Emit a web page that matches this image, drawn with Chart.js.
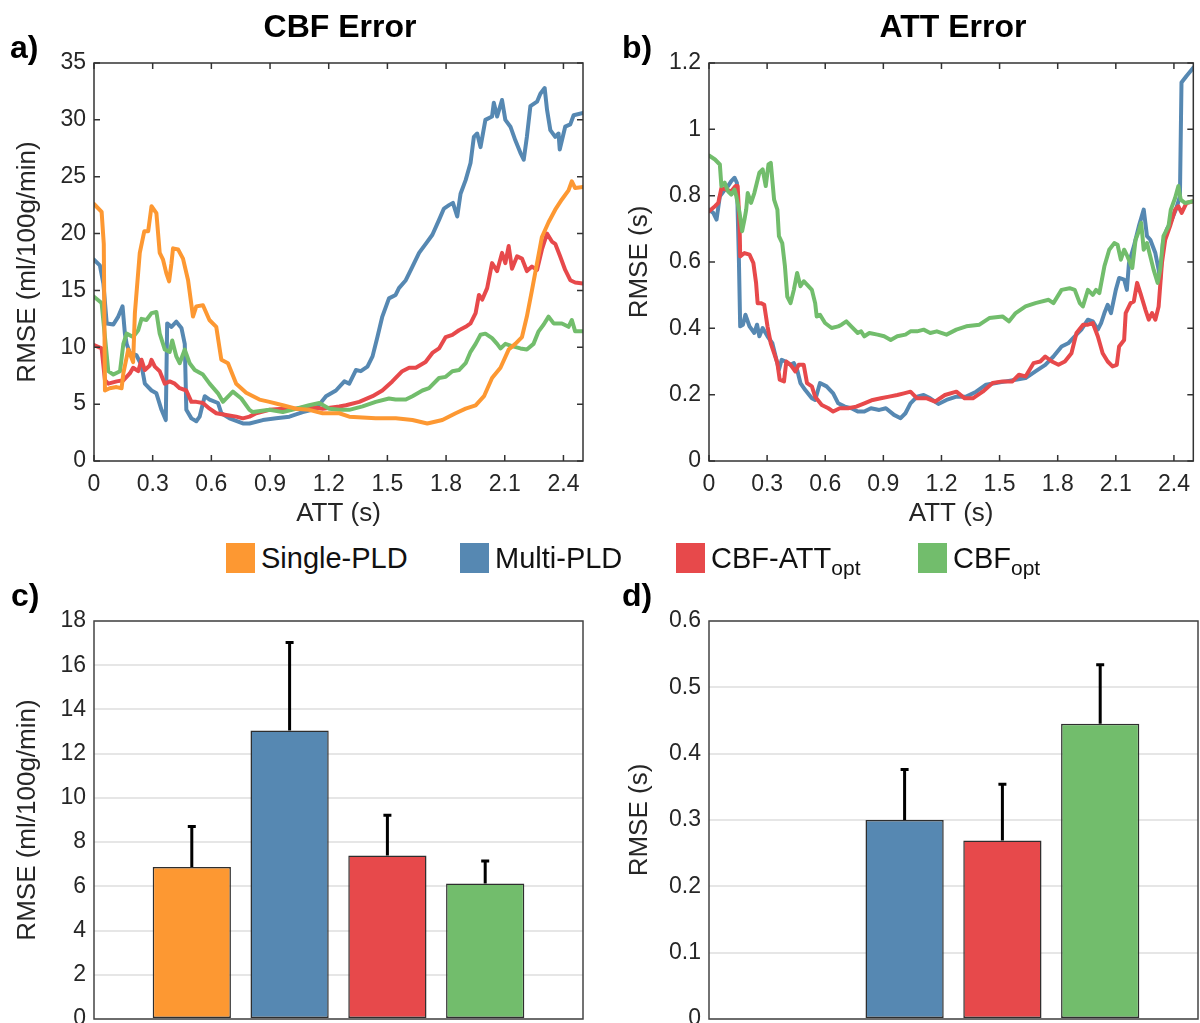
<!DOCTYPE html>
<html>
<head>
<meta charset="utf-8">
<script src="https://cdn.jsdelivr.net/npm/chart.js@4.4.1/dist/chart.umd.min.js"></script>
<style>
html,body{margin:0;padding:0;background:#fff;}
#wrap{position:relative;width:1200px;height:1023px;overflow:hidden;font-family:"Liberation Sans",Arial,sans-serif;background:#fff;}
canvas{position:absolute;}
.t{position:absolute;transform:translate(-50%,-50%);line-height:1;white-space:nowrap;color:#000;font-size:32px;font-weight:bold;}
.lbl{position:absolute;line-height:1;font-weight:bold;font-size:32px;transform:translateY(-50%);color:#000;}
.sw{position:absolute;width:29px;height:30px;top:543px;}
.lg{position:absolute;font-size:29px;line-height:1;transform:translateY(-50%);top:558px;color:#111;white-space:nowrap;}
.lg .sb{font-size:21px;position:relative;top:7px;}
</style>
</head>
<body>
<div id="wrap">
  <canvas id="ca" width="600" height="530" style="left:0;top:0;width:600px;height:530px"></canvas>
  <canvas id="cb" width="600" height="530" style="left:600px;top:0;width:600px;height:530px"></canvas>
  <canvas id="cc" width="600" height="443" style="left:0;top:580px;width:600px;height:443px"></canvas>
  <canvas id="cd" width="600" height="443" style="left:600px;top:580px;width:600px;height:443px"></canvas>

  <div class="t" style="left:340px;top:26px">CBF Error</div>
  <div class="t" style="left:953px;top:26px">ATT Error</div>
  <div class="lbl" style="left:10px;top:47px">a)</div>
  <div class="lbl" style="left:622px;top:47px">b)</div>
  <div class="lbl" style="left:11px;top:595px">c)</div>
  <div class="lbl" style="left:622px;top:595px">d)</div>

  <div id="legend"></div>
</div>
<script>
// ---------------- data ----------------
const seriesNames = ['Single-PLD', 'Multi-PLD', 'CBF-ATT', 'CBF'];
const seriesSubs  = ['', '', 'opt', 'opt'];
const seriesColors = ['rgb(253,152,50)', 'rgb(86,136,178)', 'rgb(231,73,75)', 'rgb(114,189,108)'];

const attXTickLabels = ['0','0.3','0.6','0.9','1.2','1.5','1.8','2.1','2.4'];
const cbfYTickLabels = ['0','5','10','15','20','25','30','35'];
const attYTickLabels = ['0','0.2','0.4','0.6','0.8','1','1.2'];
const cbfBarTickLabels = ['0','2','4','6','8','10','12','14','16','18'];
const attBarTickLabels = ['0','0.1','0.2','0.3','0.4','0.5','0.6'];

// Panel a: CBF RMSE vs ATT  [ATT (s), RMSE]
const cbfSingle = [[0,22.6],[0.039,21.9],[0.05,19.1],[0.056,6.2],[0.08,6.4],[0.115,6.5],[0.141,6.4],[0.15,7.7],[0.175,9.8],[0.2,8.7],[0.209,13],[0.234,18.3],[0.257,20.2],[0.277,20.2],[0.294,22.4],[0.319,21.8],[0.336,18.3],[0.353,17.7],[0.37,16.5],[0.384,15.8],[0.396,17.4],[0.404,18.7],[0.43,18.6],[0.455,17.8],[0.481,15.9],[0.506,12.7],[0.523,13.6],[0.557,13.7],[0.59,12.4],[0.625,11.8],[0.651,8.9],[0.685,8.6],[0.727,6.8],[0.778,6.0],[0.846,5.4],[0.897,5.2],[0.965,4.9],[1.033,4.6],[1.1,4.5],[1.169,4.2],[1.254,4.2],[1.305,3.9],[1.44,3.75],[1.543,3.75],[1.628,3.6],[1.704,3.3],[1.781,3.6],[1.849,4.2],[1.9,4.6],[1.951,4.9],[1.994,5.7],[2.035,7.3],[2.078,8.2],[2.12,9.8],[2.154,10.3],[2.188,10.9],[2.213,12.7],[2.239,15.0],[2.265,17.4],[2.29,19.7],[2.324,21.0],[2.358,22.1],[2.392,23.0],[2.426,23.8],[2.443,24.6],[2.46,24.0],[2.5,24.1]];
const cbfMulti = [[0,17.7],[0.03,17.2],[0.048,15.6],[0.065,12.1],[0.099,12.0],[0.124,12.7],[0.146,13.6],[0.158,11.2],[0.167,10.3],[0.183,9.5],[0.217,9.3],[0.243,8.4],[0.26,6.8],[0.294,6.2],[0.319,5.95],[0.345,4.5],[0.367,3.6],[0.374,12.1],[0.396,11.8],[0.421,12.25],[0.447,11.7],[0.464,10.3],[0.472,4.5],[0.498,3.75],[0.523,3.5],[0.54,3.9],[0.566,5.7],[0.591,5.4],[0.634,5.1],[0.651,4.2],[0.693,3.75],[0.761,3.3],[0.795,3.3],[0.863,3.6],[0.931,3.75],[0.999,3.9],[1.067,4.3],[1.135,4.6],[1.186,5.7],[1.237,6.2],[1.28,7.0],[1.305,6.8],[1.339,8.0],[1.364,7.9],[1.398,8.3],[1.424,9.2],[1.449,10.9],[1.474,12.7],[1.508,14.3],[1.542,14.6],[1.559,15.2],[1.594,15.9],[1.628,17.1],[1.662,18.3],[1.696,19.1],[1.73,19.9],[1.764,21.2],[1.789,22.2],[1.815,22.5],[1.835,22.7],[1.857,21.5],[1.874,23.5],[1.9,24.7],[1.925,26.2],[1.942,28.5],[1.959,28.8],[1.976,27.6],[2.001,30.0],[2.035,30.3],[2.044,31.5],[2.061,30.3],[2.086,31.75],[2.103,30.0],[2.129,29.4],[2.154,28.2],[2.18,27.1],[2.197,26.5],[2.213,28.5],[2.231,31.2],[2.265,31.6],[2.282,32.3],[2.304,32.8],[2.316,30.9],[2.333,29.1],[2.358,28.5],[2.375,28.8],[2.381,27.4],[2.409,29.4],[2.435,29.6],[2.452,30.4],[2.5,30.6]];
const cbfCbfAttOpt = [[0,10.2],[0.039,9.9],[0.056,7.1],[0.073,6.8],[0.116,7.0],[0.15,7.1],[0.183,7.7],[0.2,8.2],[0.226,7.9],[0.243,8.9],[0.26,8.0],[0.285,8.4],[0.294,8.9],[0.311,8.3],[0.336,7.9],[0.362,6.8],[0.387,7.0],[0.413,6.8],[0.438,6.4],[0.472,6.2],[0.498,5.2],[0.523,5.2],[0.557,5.1],[0.591,4.6],[0.625,4.2],[0.676,4.05],[0.727,3.9],[0.761,3.75],[0.795,3.9],[0.829,4.2],[0.897,4.5],[0.965,4.6],[1.033,4.6],[1.1,4.8],[1.169,4.6],[1.254,4.8],[1.288,4.9],[1.356,5.2],[1.424,5.7],[1.474,6.2],[1.525,7.0],[1.576,7.9],[1.611,8.2],[1.645,8.2],[1.695,8.7],[1.73,9.5],[1.764,9.9],[1.798,10.9],[1.832,11.1],[1.866,11.5],[1.9,11.8],[1.925,12.1],[1.951,13.0],[1.968,14.6],[1.985,14.2],[2.01,15.2],[2.035,17.4],[2.061,16.7],[2.086,18.3],[2.103,17.4],[2.12,18.9],[2.137,16.9],[2.163,18.0],[2.188,17.8],[2.213,16.7],[2.239,17.1],[2.265,16.8],[2.29,18.6],[2.316,20.0],[2.341,19.3],[2.358,19.1],[2.383,18.0],[2.409,16.8],[2.435,15.9],[2.46,15.7],[2.5,15.6]];
const cbfCbfOpt = [[0,14.45],[0.039,13.9],[0.056,10.9],[0.073,7.9],[0.099,7.6],[0.133,7.9],[0.15,10.3],[0.167,11.2],[0.2,10.9],[0.226,11.5],[0.243,12.5],[0.268,12.4],[0.294,13.0],[0.319,13.1],[0.336,11.2],[0.362,9.8],[0.387,9.6],[0.4,10.6],[0.421,9.2],[0.438,8.6],[0.464,9.8],[0.489,8.6],[0.515,8.0],[0.557,7.6],[0.591,6.8],[0.634,5.95],[0.659,5.2],[0.71,6.1],[0.753,5.5],[0.795,4.5],[0.812,4.3],[0.897,4.5],[0.965,4.3],[1.033,4.6],[1.1,4.9],[1.152,5.1],[1.203,4.6],[1.254,4.5],[1.305,4.5],[1.373,4.8],[1.44,5.2],[1.508,5.5],[1.542,5.4],[1.594,5.4],[1.628,5.7],[1.679,6.2],[1.713,6.4],[1.764,7.3],[1.798,7.4],[1.832,7.9],[1.866,8.0],[1.9,8.6],[1.925,9.6],[1.951,10.3],[1.976,11.1],[2.001,11.2],[2.035,10.8],[2.061,10.3],[2.078,9.9],[2.103,10.3],[2.137,10.1],[2.18,9.9],[2.213,9.8],[2.247,10.3],[2.273,11.4],[2.299,12.0],[2.324,12.7],[2.35,12.1],[2.392,12.1],[2.426,11.8],[2.443,12.4],[2.46,11.4],[2.5,11.4]];

// Panel b: ATT RMSE vs ATT  [ATT (s), RMSE (s)]
const attMulti = [[0,0.758],[0.022,0.748],[0.039,0.728],[0.056,0.798],[0.081,0.818],[0.098,0.829],[0.115,0.844],[0.132,0.854],[0.144,0.839],[0.154,0.617],[0.161,0.406],[0.175,0.411],[0.188,0.441],[0.209,0.406],[0.234,0.386],[0.248,0.411],[0.26,0.376],[0.277,0.401],[0.302,0.376],[0.327,0.355],[0.344,0.315],[0.361,0.275],[0.375,0.305],[0.395,0.3],[0.421,0.29],[0.438,0.295],[0.455,0.275],[0.472,0.235],[0.497,0.214],[0.531,0.189],[0.548,0.184],[0.573,0.235],[0.607,0.225],[0.641,0.204],[0.667,0.174],[0.701,0.164],[0.735,0.159],[0.768,0.149],[0.802,0.149],[0.836,0.159],[0.879,0.154],[0.913,0.159],[0.955,0.139],[0.989,0.129],[1.014,0.144],[1.04,0.174],[1.074,0.194],[1.108,0.199],[1.142,0.189],[1.184,0.172],[1.226,0.184],[1.277,0.194],[1.328,0.194],[1.379,0.209],[1.43,0.23],[1.481,0.235],[1.532,0.24],[1.583,0.245],[1.634,0.25],[1.685,0.27],[1.736,0.29],[1.778,0.315],[1.82,0.345],[1.854,0.355],[1.888,0.376],[1.922,0.396],[1.956,0.426],[1.981,0.421],[2.007,0.396],[2.024,0.416],[2.041,0.446],[2.058,0.471],[2.075,0.446],[2.1,0.516],[2.117,0.552],[2.143,0.547],[2.157,0.516],[2.168,0.597],[2.193,0.647],[2.219,0.708],[2.244,0.758],[2.261,0.678],[2.278,0.667],[2.304,0.627],[2.321,0.577],[2.329,0.547],[2.343,0.657],[2.363,0.698],[2.389,0.728],[2.41,0.758],[2.431,0.798],[2.439,1.141],[2.465,1.161],[2.5,1.186]];
const attCbfAttOpt = [[0,0.753],[0.031,0.768],[0.048,0.778],[0.064,0.823],[0.09,0.818],[0.115,0.813],[0.137,0.829],[0.148,0.829],[0.158,0.708],[0.161,0.617],[0.183,0.627],[0.209,0.622],[0.229,0.597],[0.243,0.537],[0.251,0.476],[0.268,0.476],[0.285,0.471],[0.302,0.406],[0.319,0.355],[0.336,0.325],[0.353,0.295],[0.365,0.245],[0.387,0.24],[0.399,0.3],[0.421,0.29],[0.446,0.27],[0.463,0.29],[0.489,0.29],[0.506,0.235],[0.531,0.225],[0.548,0.194],[0.582,0.169],[0.616,0.159],[0.641,0.149],[0.675,0.159],[0.718,0.159],[0.76,0.164],[0.802,0.174],[0.845,0.184],[0.887,0.189],[0.93,0.194],[0.972,0.199],[1.006,0.204],[1.04,0.209],[1.074,0.189],[1.125,0.189],[1.167,0.179],[1.218,0.199],[1.277,0.209],[1.32,0.189],[1.362,0.189],[1.413,0.209],[1.464,0.235],[1.515,0.24],[1.566,0.24],[1.6,0.26],[1.634,0.255],[1.675,0.295],[1.71,0.3],[1.736,0.315],[1.77,0.3],[1.804,0.29],[1.837,0.3],[1.871,0.325],[1.897,0.386],[1.931,0.411],[1.956,0.411],[1.981,0.416],[2.007,0.376],[2.032,0.325],[2.058,0.3],[2.083,0.285],[2.105,0.29],[2.117,0.345],[2.143,0.365],[2.151,0.446],[2.176,0.476],[2.193,0.481],[2.21,0.537],[2.227,0.506],[2.253,0.456],[2.27,0.426],[2.287,0.446],[2.304,0.426],[2.321,0.466],[2.338,0.597],[2.355,0.667],[2.38,0.708],[2.406,0.758],[2.423,0.768],[2.44,0.748],[2.465,0.778],[2.5,0.783]];
const attCbfOpt = [[0,0.921],[0.031,0.909],[0.056,0.894],[0.064,0.829],[0.081,0.839],[0.098,0.813],[0.115,0.803],[0.132,0.818],[0.141,0.798],[0.158,0.748],[0.171,0.693],[0.183,0.728],[0.192,0.758],[0.2,0.808],[0.217,0.778],[0.234,0.808],[0.26,0.869],[0.277,0.879],[0.293,0.829],[0.307,0.894],[0.319,0.899],[0.336,0.788],[0.353,0.758],[0.361,0.678],[0.378,0.657],[0.392,0.587],[0.404,0.496],[0.421,0.476],[0.438,0.516],[0.455,0.567],[0.472,0.527],[0.489,0.542],[0.506,0.532],[0.531,0.516],[0.548,0.476],[0.556,0.436],[0.573,0.441],[0.599,0.416],[0.633,0.401],[0.667,0.406],[0.684,0.411],[0.709,0.421],[0.734,0.406],[0.768,0.386],[0.785,0.391],[0.802,0.376],[0.828,0.386],[0.87,0.381],[0.904,0.376],[0.938,0.365],[0.972,0.376],[1.014,0.381],[1.04,0.391],[1.074,0.391],[1.108,0.396],[1.142,0.386],[1.176,0.391],[1.226,0.381],[1.277,0.396],[1.328,0.406],[1.396,0.411],[1.447,0.431],[1.515,0.436],[1.549,0.421],[1.583,0.446],[1.634,0.466],[1.685,0.476],[1.753,0.486],[1.778,0.476],[1.82,0.516],[1.862,0.521],[1.888,0.516],[1.914,0.476],[1.93,0.466],[1.956,0.516],[1.981,0.501],[1.998,0.516],[2.015,0.506],[2.041,0.587],[2.066,0.637],[2.092,0.657],[2.109,0.652],[2.126,0.607],[2.143,0.637],[2.16,0.617],[2.185,0.582],[2.202,0.667],[2.219,0.693],[2.231,0.718],[2.244,0.637],[2.261,0.657],[2.278,0.617],[2.295,0.577],[2.316,0.537],[2.329,0.577],[2.346,0.678],[2.372,0.708],[2.384,0.758],[2.406,0.793],[2.423,0.829],[2.435,0.788],[2.457,0.778],[2.5,0.783]];

// Panels c, d: mean RMSE and upper error (SD) per method
const cbfBarMean = [6.88, 13.05, 7.40, 6.13];
const cbfBarSD   = [1.83, 3.98, 1.81, 1.02];
const attBarMean = [null, 0.30, 0.269, 0.445];
const attBarSD   = [null, 0.076, 0.085, 0.089];

// ---------------- rendering ----------------
const FONT = '"Liberation Sans", Arial, Helvetica, sans-serif';
const INK = '#262626';

// legend (HTML text)
(function(){
  const lg = document.getElementById('legend');
  const swX = [226, 460, 676, 918];
  seriesNames.forEach((n, i) => {
    const sw = document.createElement('div');
    sw.className = 'sw'; sw.style.left = swX[i] + 'px'; sw.style.background = seriesColors[i];
    lg.appendChild(sw);
    const tx = document.createElement('div');
    tx.className = 'lg'; tx.style.left = (swX[i] + 35) + 'px';
    tx.innerHTML = n + (seriesSubs[i] ? '<span class="sb">' + seriesSubs[i] + '</span>' : '');
    lg.appendChild(tx);
  });
})();

const framePlugin = {
  id: 'frame',
  afterDatasetsDraw(chart, args, o) {
    const {ctx, chartArea: a, scales} = chart;
    ctx.save();
    ctx.strokeStyle = o.color || '#333';
    ctx.lineWidth = o.width || 1.5;
    if (o.ticks) {
      const L = 6;
      ctx.beginPath();
      scales.x.ticks.forEach(t => {
        const px = scales.x.getPixelForValue(t.value);
        ctx.moveTo(px, a.bottom); ctx.lineTo(px, a.bottom - L);
        ctx.moveTo(px, a.top); ctx.lineTo(px, a.top + L);
      });
      scales.y.ticks.forEach(t => {
        const py = scales.y.getPixelForValue(t.value);
        ctx.moveTo(a.left, py); ctx.lineTo(a.left + L, py);
        ctx.moveTo(a.right, py); ctx.lineTo(a.right - L, py);
      });
      ctx.stroke();
    }
    ctx.strokeRect(a.left, a.top, a.right - a.left, a.bottom - a.top);
    ctx.restore();
  }
};

const errPlugin = {
  id: 'errbars',
  afterDatasetsDraw(chart, args, o) {
    if (!o.sd) return;
    const {ctx, scales: {y}} = chart;
    const meta = chart.getDatasetMeta(0);
    const vals = chart.data.datasets[0].data;
    ctx.save();
    ctx.strokeStyle = '#000';
    ctx.lineWidth = 3;
    meta.data.forEach((el, i) => {
      const m = vals[i], s = o.sd[i];
      if (m == null || s == null) return;
      const top = y.getPixelForValue(m + s);
      ctx.beginPath();
      ctx.moveTo(el.x, el.y); ctx.lineTo(el.x, top);
      ctx.moveTo(el.x - 4, top); ctx.lineTo(el.x + 4, top);
      ctx.stroke();
    });
    ctx.restore();
  }
};

function tickSetter(labels) {
  return s => { s.ticks = labels.map(l => ({value: Number(l)})); };
}
function yFit(w) {
  return s => { s.width = w; s.paddingTop = 0; s.paddingBottom = 0; };
}

function lineChart(id, sets, yMax, yLabels, yTitle, yTitlePad, yWidth, padRight) {
  return new Chart(document.getElementById(id), {
    type: 'scatter',
    data: {
      datasets: sets.map(s => ({
        label: s.name,
        data: s.data.map(p => ({x: p[0], y: p[1]})),
        showLine: true, borderColor: s.color, backgroundColor: s.color,
        borderWidth: 4, pointRadius: 0, pointHoverRadius: 0, tension: 0, fill: false,
        order: s.order, borderJoinStyle: 'round', borderCapStyle: 'round'
      }))
    },
    options: {
      responsive: false, animation: false, events: [], devicePixelRatio: 1,
      layout: {padding: {top: 63, right: padRight, left: 0, bottom: 0}},
      plugins: {legend: {display: false}, tooltip: {enabled: false}, frame: {ticks: true, color: '#333', width: 1.5}},
      scales: {
        x: {
          type: 'linear', min: 0, max: 2.5,
          afterBuildTicks: tickSetter(attXTickLabels),
          afterFit: s => { s.height = 69; },
          ticks: {autoSkip: false, maxRotation: 0, padding: 10, color: INK, font: {family: FONT, size: 23},
                  callback: (v, i) => attXTickLabels[i]},
          grid: {display: false, drawTicks: false}, border: {display: false},
          title: {display: true, text: 'ATT (s)', color: INK, font: {family: FONT, size: 26}, padding: {top: 0, bottom: 1}}
        },
        y: {
          type: 'linear', min: 0, max: yMax,
          afterBuildTicks: tickSetter(yLabels),
          afterFit: yFit(yWidth),
          ticks: {padding: 8, color: INK, font: {family: FONT, size: 23}, callback: (v, i) => yLabels[i]},
          grid: {display: false, drawTicks: false}, border: {display: false},
          title: {display: true, text: yTitle, color: INK, font: {family: FONT, size: 26}, padding: {top: yTitlePad, bottom: 0}}
        }
      }
    },
    plugins: [framePlugin]
  });
}

function barChart(id, means, sds, yMax, yLabels, yTitle, yTitlePad, yWidth, padRight) {
  const labels = ['', ...seriesNames, ' '];
  return new Chart(document.getElementById(id), {
    type: 'bar',
    data: {
      labels: labels,
      datasets: [{
        data: [null, ...means, null],
        backgroundColor: ['rgba(0,0,0,0)', ...seriesColors, 'rgba(0,0,0,0)'],
        borderColor: '#2e2e2e', borderWidth: 1.5, borderSkipped: false,
        categoryPercentage: 1.0, barPercentage: 0.8
      }]
    },
    options: {
      responsive: false, animation: false, events: [], devicePixelRatio: 1,
      layout: {padding: {top: 41, right: padRight, left: 0, bottom: 0}},
      plugins: {legend: {display: false}, tooltip: {enabled: false},
                frame: {ticks: false, color: '#444', width: 1.5},
                errbars: {sd: [null, ...sds, null]}},
      scales: {
        x: {
          type: 'category', offset: false,
          afterFit: s => { s.height = 4; s.paddingLeft = 0; s.paddingRight = 0; },
          ticks: {display: false},
          grid: {display: false, drawTicks: false, offset: false}, border: {display: false}
        },
        y: {
          type: 'linear', min: 0, max: yMax,
          afterBuildTicks: tickSetter(yLabels),
          afterFit: yFit(yWidth),
          ticks: {padding: 8, color: INK, font: {family: FONT, size: 23}, callback: (v, i) => yLabels[i]},
          grid: {display: true, drawTicks: false, color: '#e6e6e6', lineWidth: 2}, border: {display: false},
          title: {display: true, text: yTitle, color: INK, font: {family: FONT, size: 26}, padding: {top: yTitlePad, bottom: 0}}
        }
      }
    },
    plugins: [framePlugin, errPlugin]
  });
}

lineChart('ca', [
  {name: seriesNames[0], data: cbfSingle,    color: seriesColors[0], order: 0},
  {name: seriesNames[1], data: cbfMulti,     color: seriesColors[1], order: 3},
  {name: seriesNames[2], data: cbfCbfAttOpt, color: seriesColors[2], order: 2},
  {name: seriesNames[3], data: cbfCbfOpt,    color: seriesColors[3], order: 1}
], 35, cbfYTickLabels, 'RMSE (ml/100g/min)', 12, 94, 17);

lineChart('cb', [
  {name: seriesNames[1], data: attMulti,     color: seriesColors[1], order: 3},
  {name: seriesNames[2], data: attCbfAttOpt, color: seriesColors[2], order: 2},
  {name: seriesNames[3], data: attCbfOpt,    color: seriesColors[3], order: 1}
], 1.2, attYTickLabels, 'RMSE (s)', 24, 109, 2);

barChart('cc', cbfBarMean, cbfBarSD, 18, cbfBarTickLabels, 'RMSE (ml/100g/min)', 12, 94, 17);
barChart('cd', attBarMean, attBarSD, 0.6, attBarTickLabels, 'RMSE (s)', 24, 109, 2);
</script>
</body>
</html>
